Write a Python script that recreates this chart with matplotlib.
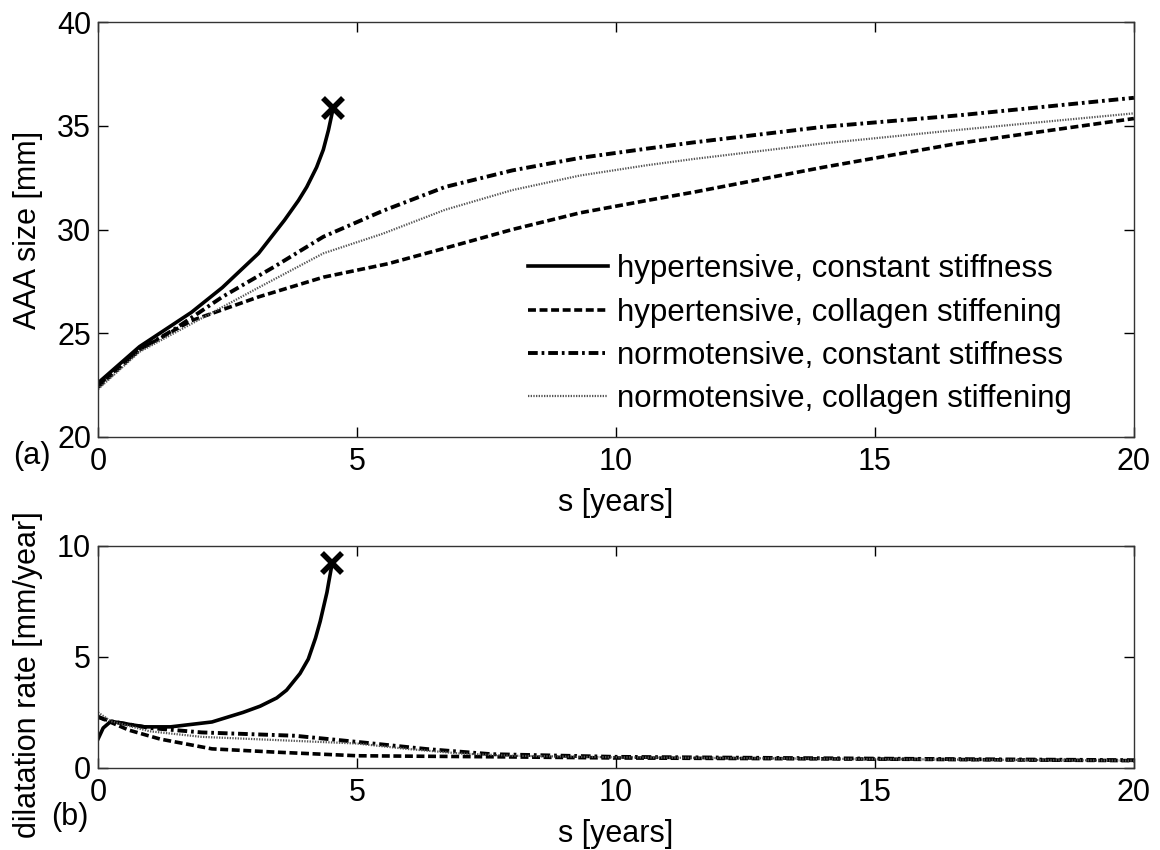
import numpy as np
import matplotlib.pyplot as plt

plt.rcParams['font.family'] = ['Liberation Sans', 'DejaVu Sans']
plt.rcParams['font.size'] = 22

# (a) AAA size [mm] vs s [years]
hc_s = [0, 0.8, 1.8, 2.4, 3.1, 3.6, 3.87, 4.03, 4.22, 4.35, 4.45, 4.54]
hc_size = [22.6, 24.35, 26.0, 27.2, 28.85, 30.45, 31.4, 32.05, 33.0, 33.85, 34.8, 35.85]

hs_s = [0, 0.8, 1.8, 3.1, 4.35, 5.6, 6.7, 8.0, 9.3, 10.6, 11.5, 14, 16.6, 20]
hs_size = [22.4, 24.2, 25.6, 26.75, 27.7, 28.35, 29.1, 30.0, 30.8, 31.4, 31.8, 33.0, 34.15, 35.35]

nc_s = [0, 0.8, 1.45, 2.4, 3.4, 4.35, 5.5, 6.7, 8.0, 9.3, 10.6, 11.5, 14, 16.6, 20]
nc_size = [22.5, 24.2, 25.15, 26.75, 28.2, 29.65, 30.9, 32.05, 32.85, 33.45, 33.9, 34.2, 34.95, 35.5, 36.35]

ns_s = [0, 0.8, 1.8, 3.1, 4.35, 5.5, 6.7, 8.0, 9.3, 10.6, 11.5, 14, 16.6, 20]
ns_size = [22.3, 24.1, 25.45, 27.2, 28.85, 29.8, 30.95, 31.9, 32.6, 33.1, 33.4, 34.15, 34.8, 35.6]

# (b) dilatation rate [mm/year]
hc_rs = [0, 0.1, 0.25, 0.5, 0.9, 1.4, 2.2, 2.8, 3.13, 3.45, 3.64, 3.9, 4.06, 4.2, 4.29, 4.42, 4.45, 4.52]
hc_rate = [1.3, 1.8, 2.1, 2.0, 1.85, 1.85, 2.07, 2.5, 2.78, 3.15, 3.5, 4.25, 4.9, 5.85, 6.6, 7.9, 8.3, 9.2]

hs_rs = [0, 0.25, 0.6, 1.2, 2.2, 3.45, 5, 7.8, 10, 15, 20]
hs_rate = [2.3, 2.05, 1.7, 1.3, 0.86, 0.71, 0.55, 0.5, 0.45, 0.4, 0.33]

nc_rs = [0, 0.25, 1, 2, 3.8, 5.1, 6.35, 7.6, 10, 15, 20]
nc_rate = [2.3, 2.1, 1.8, 1.6, 1.45, 1.15, 0.85, 0.62, 0.5, 0.42, 0.35]

ns_rs = [0, 0.25, 1, 2, 3, 4, 5, 6, 7, 8, 10, 15, 20]
ns_rate = [2.5, 2.1, 1.65, 1.4, 1.3, 1.2, 1.1, 0.85, 0.65, 0.55, 0.48, 0.4, 0.33]

labels = ['hypertensive, constant stiffness',
          'hypertensive, collagen stiffening',
          'normotensive, constant stiffness',
          'normotensive, collagen stiffening']

styles = [dict(color='black', lw=2.6, ls='-'),
          dict(color='black', lw=2.6, dashes=(2.2, 1.0)),
          dict(color='black', lw=2.8, dashes=(2.5, 1.0, 0.7, 1.0)),
          dict(color='#555555', lw=1.6, dashes=(0.6, 0.6))]

fig = plt.figure(figsize=(11.6, 8.5), dpi=100)
ax1 = fig.add_axes([0.0845, 0.486, 0.893, 0.488])
ax2 = fig.add_axes([0.0845, 0.0965, 0.893, 0.2615])

size_data = [(hc_s, hc_size), (hs_s, hs_size), (nc_s, nc_size), (ns_s, ns_size)]
rate_data = [(hc_rs, hc_rate), (hs_rs, hs_rate), (nc_rs, nc_rate), (ns_rs, ns_rate)]

for (x, y), st, lab in zip(size_data, styles, labels):
    ax1.plot(x, y, label=lab, **st)
ax1.plot(hc_s[-1], hc_size[-1], marker='x', color='black', ms=14, mew=4)

for (x, y), st in zip(rate_data, styles):
    ax2.plot(x, y, **st)
ax2.plot(hc_rs[-1], hc_rate[-1], marker='x', color='black', ms=14, mew=4)

ax1.set_xlim(0, 20)
ax1.set_ylim(20, 40)
ax1.set_yticks([20, 25, 30, 35, 40])
ax2.set_xlim(0, 20)
ax2.set_ylim(0, 10)
ax2.set_yticks([0, 5, 10])

for ax in (ax1, ax2):
    ax.set_xticks([0, 5, 10, 15, 20])
    ax.tick_params(direction='in', top=True, right=True, length=7, width=1)
    ax.tick_params(axis='x', pad=7)
    ax.tick_params(axis='y', pad=5)
    for sp in ax.spines.values():
        sp.set_linewidth(1)
        sp.set_color('#333333')
    ax.set_xlabel('s [years]', labelpad=8)

ax1.set_ylabel('AAA size [mm]')
ax2.set_ylabel('dilatation rate [mm/year]')
ax1.yaxis.set_label_coords(-0.053, 0.5)
ax2.yaxis.set_label_coords(-0.053, 0.42)

ax1.legend(loc='upper left', bbox_to_anchor=(0.415, 0.44), frameon=False,
           borderpad=0, borderaxespad=0, handlelength=2.55, handletextpad=0.3,
           labelspacing=0.42, fontsize=22.5)

fig.text(0.011, 0.463, '(a)', ha='left', va='center')
fig.text(0.044, 0.039, '(b)', ha='left', va='center')

fig.savefig('out.png', dpi=100)
